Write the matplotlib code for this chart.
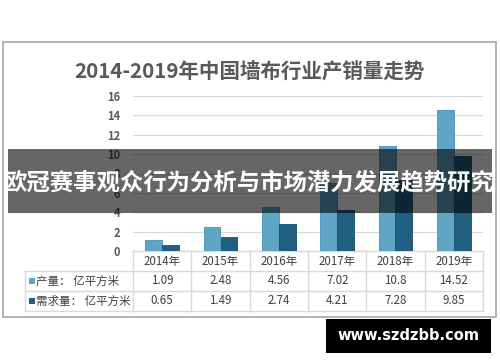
import matplotlib.pyplot as plt
from matplotlib.patches import Rectangle
import numpy as np

plt.rcParams['font.family'] = ['Noto Sans CJK SC', 'DejaVu Sans']

# data
years = ["2014年", "2015年", "2016年", "2017年", "2018年", "2019年"]
output = [1.09, 2.48, 4.56, 7.02, 10.8, 14.52]
demand = [0.65, 1.49, 2.74, 4.21, 7.28, 9.85]
output_label = "产量： 亿平方米"
demand_label = "需求量： 亿平方米"
title = "2014-2019年中国墙布行业产销量走势"
banner = "欧冠赛事观众行为分析与市场潜力发展趋势研究"
watermark = "www.szdzbb.com"

light = "#5fa5c8"
dark = "#215f80"
grid = "#d9d9d9"
txt = "#404040"

W, H = 500, 362
fig = plt.figure(figsize=(5, 3.62), dpi=100)


def fx(px):
    return px / W


def fy(py):
    # pixel y from the top -> figure fraction
    return 1 - py / H


# outer chart border
fig.patches.append(Rectangle((fx(3), fy(317)), fx(493), 275 / H, transform=fig.transFigure,
                             fill=False, edgecolor="#a6a6a6", lw=1.2))

fig.text(fx(249), fy(72), title, ha="center", va="center", fontsize=14.8,
         fontweight="bold", color="#595959")

ax = fig.add_axes([fx(133), fy(251), fx(350), 155 / H])
x = np.arange(len(years))
w = 0.29
ax.bar(x - w / 2, output, w, color=light, edgecolor="#4a8fb2", lw=0.6, zorder=3)
ax.bar(x + w / 2, demand, w, color=dark, edgecolor="#1a4d68", lw=0.6, zorder=3)
ax.set_xlim(-0.5, len(years) - 0.5)
ax.set_ylim(0, 16)
ax.set_yticks(range(0, 17, 2))
ax.yaxis.grid(True, color=grid, lw=0.9, zorder=0)
ax.set_xticks([])
for s in ax.spines.values():
    s.set_visible(False)
ax.tick_params(axis="y", length=0, pad=9, labelsize=8, labelcolor="#595959")
for lab in ax.get_yticklabels():
    lab.set_fontweight("bold")

# data table under the plot (y in axes fraction, x in data units)
rh = 20 / 155
tr = ax.get_xaxis_transform()
left = -0.5 - 108 / (350 / len(years))
right = len(years) - 0.5
lkw = dict(transform=tr, color=grid, lw=1, clip_on=False)
# horizontal lines
ax.plot([-0.5, right], [0, 0], **lkw)
for r in (1, 2, 3):
    ax.plot([left, right], [-r * rh, -r * rh], **lkw)
# vertical lines
for b in np.arange(-0.5, right + 0.1, 1):
    ax.plot([b, b], [0, -3 * rh], **lkw)
ax.plot([left, left], [-rh, -3 * rh], **lkw)

for i, yr in enumerate(years):
    ax.text(i, -0.5 * rh, yr, transform=tr, ha="center", va="center", fontsize=8.3, color=txt)
    ax.text(i, -1.5 * rh, f"{output[i]}", transform=tr, ha="center", va="center", fontsize=8.3, color=txt)
    ax.text(i, -2.5 * rh, f"{demand[i]}", transform=tr, ha="center", va="center", fontsize=8.3, color=txt)

for r, (lab, col) in enumerate([(output_label, light), (demand_label, dark)]):
    yc = -(1.5 + r) * rh
    ax.add_patch(Rectangle((left + 0.07, yc - 0.022), 0.11, 0.044, transform=tr,
                           facecolor=col, edgecolor="none", clip_on=False))
    ax.text(left + 0.19, yc, lab, transform=tr, ha="left", va="center", fontsize=8.3, color=txt)

# dark banner over the chart
fig.patches.append(Rectangle((fx(8), fy(213)), fx(484), 64 / H, transform=fig.transFigure,
                             facecolor="black", alpha=0.6, edgecolor="none", zorder=5))
fig.text(fx(249), fy(182), banner, ha="center", va="center", fontsize=16.8,
         fontweight="bold", color="white", zorder=6)

# watermark box
fig.patches.append(Rectangle((fx(326), fy(353)), fx(165), 34 / H, transform=fig.transFigure,
                             facecolor="black", edgecolor="none", zorder=5))
fig.text(fx(408), fy(336), watermark, ha="center", va="center", fontsize=10.5,
         fontweight="bold", color="white", family="DejaVu Sans", zorder=6)

fig.savefig("out.png", dpi=100)
